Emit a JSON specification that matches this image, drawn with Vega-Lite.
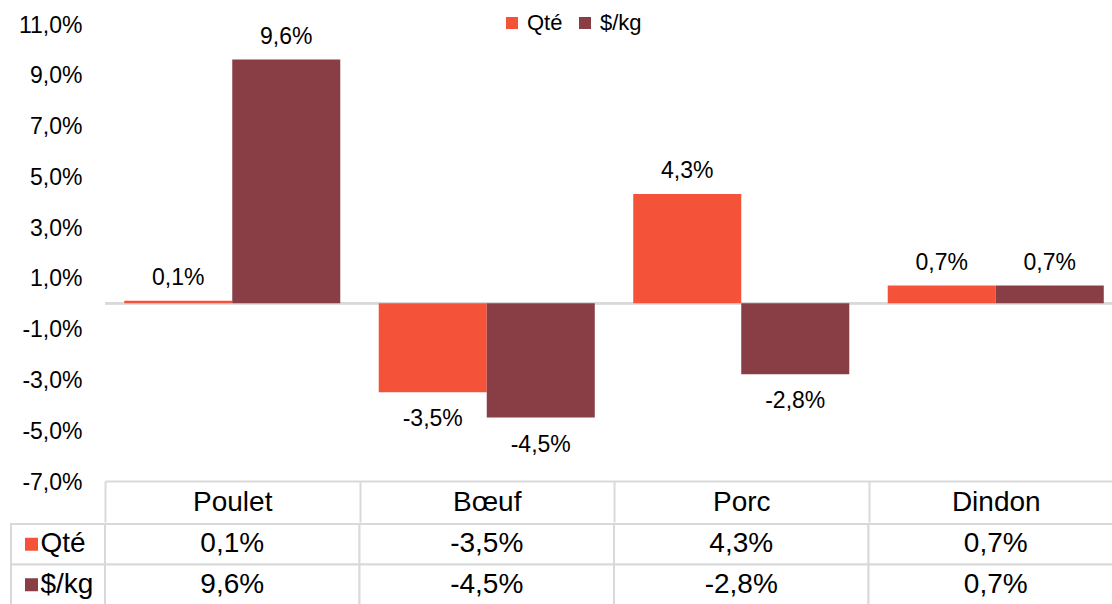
{
  "$schema": "https://vega.github.io/schema/vega-lite/v6.json",
  "padding": {"left": 10, "top": 12, "right": 0, "bottom": 0},
  "config": {
    "font": "Liberation Sans",
    "view": {"stroke": null},
    "locale": {"number": {"decimal": ",", "thousands": " ", "grouping": [3], "currency": ["", " $"], "minus": "-", "percent": "%"}},
    "axis": {"labelColor": "#000000"},
    "legend": {"labelColor": "#000000"}
  },
  "datasets": {
    "main": [
      {"cat": "Poulet", "series": "Qté", "v": 0.001},
      {"cat": "Poulet", "series": "$/kg", "v": 0.096},
      {"cat": "Bœuf", "series": "Qté", "v": -0.035},
      {"cat": "Bœuf", "series": "$/kg", "v": -0.045},
      {"cat": "Porc", "series": "Qté", "v": 0.043},
      {"cat": "Porc", "series": "$/kg", "v": -0.028},
      {"cat": "Dindon", "series": "Qté", "v": 0.007},
      {"cat": "Dindon", "series": "$/kg", "v": 0.007}
    ],
    "series": [{"series": "Qté"}, {"series": "$/kg"}],
    "empty": []
  },
  "resolve": {"scale": {"color": "independent"}},
  "columns": 1,
  "spacing": 0,
  "concat": [
    {
      "spacing": 0,
      "bounds": "flush",
      "hconcat": [
        {
          "width": 94,
          "height": 457,
          "data": {"name": "empty"},
          "mark": {"type": "rect"},
          "encoding": {}
        },
        {
          "width": 1018,
          "height": 457,
          "data": {"name": "main"},
          "layer": [
            {
              "mark": {"type": "rule", "color": "#d9d9d9", "strokeWidth": 2},
              "encoding": {"y": {"datum": 0, "type": "quantitative"}}
            },
            {
              "encoding": {
                "x": {
                  "field": "cat", "type": "nominal",
                  "sort": ["Poulet", "Bœuf", "Porc", "Dindon"],
                  "scale": {"paddingInner": 0, "paddingOuter": 0},
                  "axis": {
                    "title": null, "labelAngle": 0, "labelFontSize": 28,
                    "labelPadding": -20, "labelBaseline": "middle",
                    "tickBand": "extent", "tickSize": 41, "tickColor": "#d9d9d9", "tickWidth": 2,
                    "domainColor": "#d9d9d9", "domainWidth": 2, "grid": false
                  }
                },
                "xOffset": {
                  "field": "series", "type": "nominal", "sort": ["Qté", "$/kg"],
                  "scale": {"paddingInner": 0, "paddingOuter": 0.178}
                },
                "y": {
                  "field": "v", "type": "quantitative",
                  "scale": {"domain": [-0.07, 0.11], "nice": false, "zero": false},
                  "axis": {
                    "title": null,
                    "values": [-0.07, -0.05, -0.03, -0.01, 0.01, 0.03, 0.05, 0.07, 0.09, 0.11],
                    "format": ".1%", "domain": false, "ticks": false, "grid": false,
                    "labelFontSize": 23, "labelPadding": 23, "labelOffset": 1
                  }
                }
              },
              "layer": [
                {
                  "mark": {"type": "bar"},
                  "encoding": {
                    "color": {
                      "field": "series", "type": "nominal",
                      "scale": {"domain": ["Qté", "$/kg"], "range": ["#F4533A", "#893E46"]},
                      "legend": {
                        "orient": "none", "legendX": 490, "legendY": -12,
                        "direction": "horizontal", "title": null,
                        "symbolType": "square", "symbolSize": 144, "symbolStrokeWidth": 0,
                        "labelFontSize": 22, "labelOffset": 4, "columnPadding": 11
                      }
                    }
                  }
                },
                {
                  "transform": [{"filter": "datum.v >= 0"}],
                  "mark": {"type": "text", "fontSize": 23, "color": "#000000", "baseline": "middle", "dy": -23},
                  "encoding": {"text": {"field": "v", "type": "quantitative", "format": ".1%"}}
                },
                {
                  "transform": [{"filter": "datum.v < 0"}],
                  "mark": {"type": "text", "fontSize": 23, "color": "#000000", "baseline": "middle", "dy": 27},
                  "encoding": {"text": {"field": "v", "type": "quantitative", "format": ".1%"}}
                }
              ]
            }
          ]
        }
      ]
    },
    {
      "spacing": 0,
      "bounds": "flush",
      "hconcat": [
        {
          "width": 94,
          "height": 81,
          "data": {"name": "series"},
          "encoding": {
            "y": {
              "field": "series", "type": "nominal", "sort": ["Qté", "$/kg"],
              "scale": {"paddingInner": 0, "paddingOuter": 0}, "axis": null
            }
          },
          "layer": [
            {"mark": {"type": "rect", "fill": "white", "stroke": "#d9d9d9", "strokeWidth": 2}},
            {
              "mark": {"type": "point", "shape": "square", "filled": true, "size": 169, "opacity": 1},
              "encoding": {
                "x": {"datum": "swatch", "type": "nominal", "scale": {"type": "point", "domain": ["swatch", "label"], "range": [16, 34]}, "axis": null},
                "color": {
                  "field": "series", "type": "nominal",
                  "scale": {"domain": ["Qté", "$/kg"], "range": ["#F4533A", "#893E46"]},
                  "legend": null
                }
              }
            },
            {
              "mark": {"type": "text", "align": "left", "baseline": "middle", "fontSize": 28, "color": "#000000"},
              "encoding": {
                "x": {"datum": "label", "type": "nominal", "scale": {"type": "point", "domain": ["swatch", "label"], "range": [16, 34]}, "axis": null},
                "text": {"field": "series", "type": "nominal"}
              }
            }
          ]
        },
        {
          "width": 1018,
          "height": 81,
          "data": {"name": "main"},
          "encoding": {
            "x": {
              "field": "cat", "type": "nominal", "sort": ["Poulet", "Bœuf", "Porc", "Dindon"],
              "scale": {"paddingInner": 0, "paddingOuter": 0}, "axis": null
            },
            "y": {
              "field": "series", "type": "nominal", "sort": ["Qté", "$/kg"],
              "scale": {"paddingInner": 0, "paddingOuter": 0}, "axis": null
            }
          },
          "layer": [
            {"mark": {"type": "rect", "fill": "white", "stroke": "#d9d9d9", "strokeWidth": 2}},
            {
              "mark": {"type": "text", "baseline": "middle", "fontSize": 28, "color": "#000000"},
              "encoding": {"text": {"field": "v", "type": "quantitative", "format": ".1%"}}
            }
          ]
        }
      ]
    }
  ]
}
